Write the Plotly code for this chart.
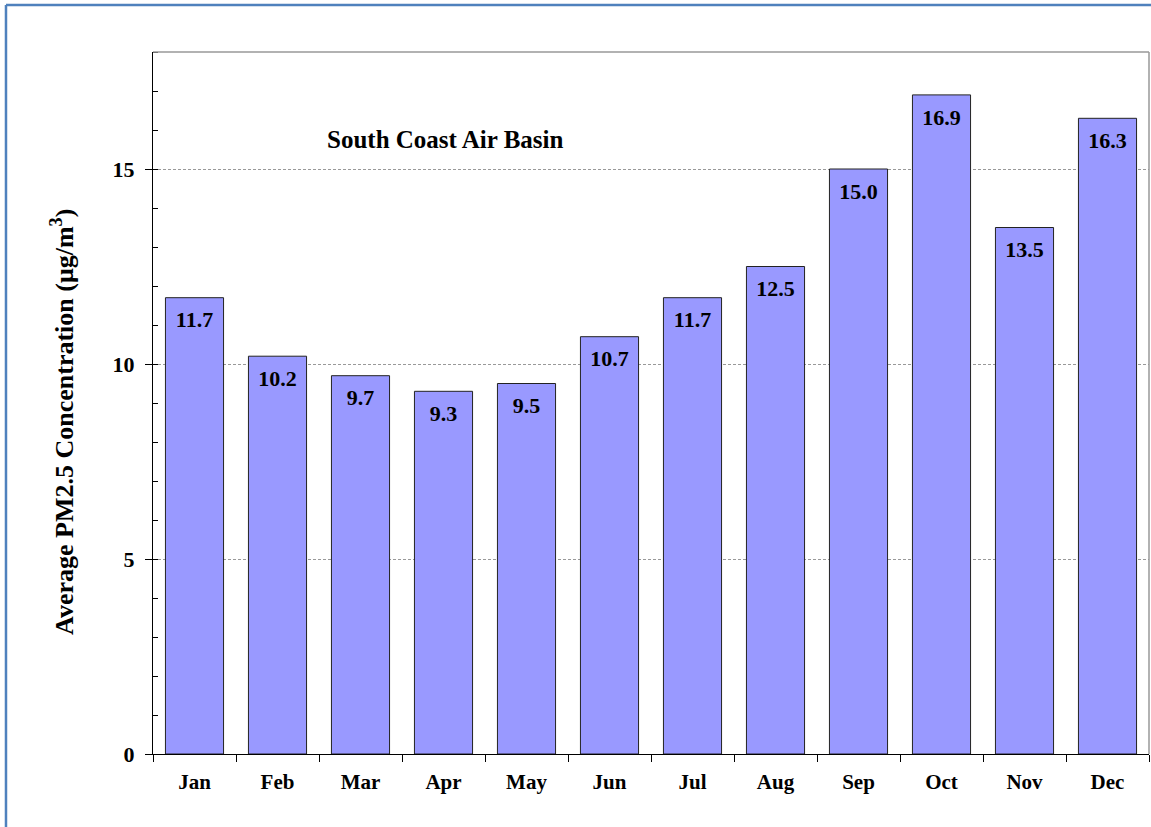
import plotly.graph_objects as go

months = ["Jan", "Feb", "Mar", "Apr", "May", "Jun", "Jul", "Aug", "Sep", "Oct", "Nov", "Dec"]
pm25 = [11.7, 10.2, 9.7, 9.3, 9.5, 10.7, 11.7, 12.5, 15.0, 16.9, 13.5, 16.3]
y_ticks = [0, 5, 10, 15]

FONT = "Liberation Serif, Times New Roman, serif"
LABEL_DROP = 0.62  # label sits just below bar top (data units)

fig = go.Figure()
fig.add_trace(go.Bar(
    x=months, y=pm25,
    marker=dict(color="#9999FF", line=dict(color="#222222", width=1)),
    hoverinfo="x+y",
))
fig.add_trace(go.Scatter(
    x=months, y=[v - LABEL_DROP for v in pm25],
    mode="text",
    text=[f"<b>{v:.1f}</b>" for v in pm25],
    textposition="middle center",
    textfont=dict(family=FONT, size=22, color="black"),
    hoverinfo="skip",
))

fig.update_layout(
    width=1151, height=827,
    margin=dict(l=153, r=2, t=52, b=73),
    paper_bgcolor="white", plot_bgcolor="white",
    bargap=0.3,
    showlegend=False,
    font=dict(family=FONT, color="black"),
    xaxis=dict(
        type="category", range=[-0.5, len(months) - 0.5],
        tickmode="array", tickvals=months,
        ticktext=[f"<b>{m}</b>" for m in months],
        tickfont=dict(family=FONT, size=21),
        tickson="boundaries", ticks="outside", ticklen=7, tickcolor="black",
        ticklabelstandoff=9,
        showline=True, linecolor="black", linewidth=1,
        mirror=False, showgrid=False,
    ),
    yaxis=dict(
        range=[0, 18],
        tickmode="array", tickvals=y_ticks,
        ticktext=[f"<b>{t}</b>" for t in y_ticks],
        tickfont=dict(family=FONT, size=22),
        ticks="outside", ticklen=7, tickcolor="black",
        ticklabelstandoff=6,
        showline=True, linecolor="black", linewidth=1,
        showgrid=True, gridcolor="#999999", griddash="3px,2px", gridwidth=1,
        zeroline=False,
        minor=dict(dtick=1, ticks="inside", ticklen=5, tickcolor="black", showgrid=False),
    ),
)

# y-axis title as a rotated annotation
fig.add_annotation(text="<b>Average PM2.5 Concentration (μg/m<sup>3</sup>)</b>",
                   xref="paper", yref="paper", x=-0.0904, y=0.473,
                   xanchor="center", yanchor="middle", textangle=-90, showarrow=False,
                   font=dict(family=FONT, size=26, color="black"))

# top and right gray borders of plot area
fig.add_shape(type="line", xref="paper", yref="paper", x0=0, x1=1, y0=1, y1=1,
              line=dict(color="#999999", width=1.5))
fig.add_shape(type="line", xref="paper", yref="paper", x0=1, x1=1, y0=0, y1=1,
              line=dict(color="#999999", width=1.5))

# outer blue frame (top and left edges visible)
fig.add_shape(type="line", xref="paper", yref="paper",
              x0=-0.1476, x1=1.2, y0=1.067, y1=1.067,
              line=dict(color="#4F81BD", width=2.5), layer="above")
fig.add_shape(type="line", xref="paper", yref="paper",
              x0=-0.1476, x1=-0.1476, y0=-0.2, y1=1.067,
              line=dict(color="#4F81BD", width=2.5), layer="above")

fig.add_annotation(text="<b>South Coast Air Basin</b>", xref="paper", yref="paper",
                   x=0.294, y=0.876, xanchor="center", yanchor="middle", showarrow=False,
                   font=dict(family=FONT, size=25, color="black"))

fig.write_html("out.html", config={"displayModeBar": False},
               post_script="document.body.style.margin='0';document.body.style.overflow='hidden';")
